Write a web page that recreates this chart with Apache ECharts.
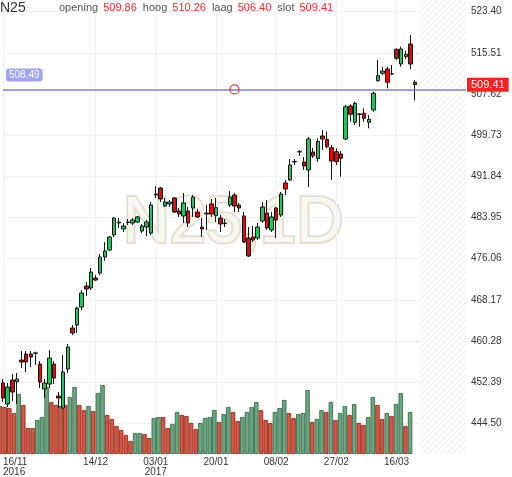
<!DOCTYPE html>
<html><head><meta charset="utf-8">
<script src="https://cdn.jsdelivr.net/npm/echarts@6/dist/echarts.min.js"></script>
<style>html,body{margin:0;padding:0;background:#fff}#c{width:512px;height:477px}</style>
</head><body><div id="c"></div>
<script>
const symbolName = 'N25';
const watermark = 'N25,1D';
const dates = [
'2016-11-16','2016-11-17','2016-11-18','2016-11-21','2016-11-22','2016-11-23','2016-11-24','2016-11-25','2016-11-28','2016-11-29','2016-11-30',
'2016-12-01','2016-12-02','2016-12-05','2016-12-06','2016-12-07','2016-12-08','2016-12-09','2016-12-12','2016-12-13','2016-12-14',
'2016-12-15','2016-12-16','2016-12-19','2016-12-20','2016-12-21','2016-12-22','2016-12-23','2016-12-27','2016-12-28','2016-12-29','2016-12-30',
'2017-01-02','2017-01-03','2017-01-04','2017-01-05','2017-01-06','2017-01-09','2017-01-10','2017-01-11','2017-01-12','2017-01-13',
'2017-01-16','2017-01-17','2017-01-18','2017-01-19','2017-01-20','2017-01-23','2017-01-24','2017-01-25','2017-01-26','2017-01-27','2017-01-30','2017-01-31',
'2017-02-01','2017-02-02','2017-02-03','2017-02-06','2017-02-07','2017-02-08','2017-02-09','2017-02-10','2017-02-13','2017-02-14','2017-02-15','2017-02-16','2017-02-17',
'2017-02-20','2017-02-21','2017-02-22','2017-02-23','2017-02-24','2017-02-27','2017-02-28',
'2017-03-01','2017-03-02','2017-03-03','2017-03-06','2017-03-07','2017-03-08','2017-03-09','2017-03-10','2017-03-13','2017-03-14','2017-03-15','2017-03-16','2017-03-17','2017-03-20','2017-03-21','2017-03-22',
'2017-03-23','2017-03-24','2017-03-27','2017-03-28','2017-03-29','2017-03-30','2017-03-31','2017-04-03','2017-04-04','2017-04-05','2017-04-06'
];
const openP = [
452.23,448.20,452.80,452.48,456.64,457.79,457.79,458.00,455.87,451.08,
452.03,455.87,449.73,447.43,454.91,462.77,463.34,466.79,470.82,470.44,
472.35,473.31,476.38,477.72,480.60,482.90,481.75,483.09,482.90,483.09,
481.36,482.13,480.98,488.45,489.60,486.15,486.54,487.69,485.20,484.24,
485.20,485.77,485.00,482.13,484.81,486.54,484.29,483.85,482.90,486.35,
488.26,486.35,484.24,480.02,480.21,480.02,483.28,484.81,481.55,485.77,
484.43,490.56,491.14,494.59,496.51,494.59,493.05,496.51,495.26,499.57,
498.94,497.33,496.56,496.12,499.00,505.32,502.20,503.79,503.92,502.20,
504.56,510.17,511.59,512.41,511.51,516.19,513.37,514.77,517.21,509.86];
const closeP = [
449.35,451.46,450.50,452.99,456.25,456.25,457.21,457.90,452.42,452.23,
457.02,453.18,449.35,454.34,459.13,461.81,466.60,469.48,470.24,473.50,
471.97,476.38,477.53,480.21,483.85,483.09,482.32,482.99,483.47,484.05,
482.32,483.09,486.35,488.26,487.50,486.92,486.92,485.00,484.62,486.73,
482.90,487.88,484.05,481.75,484.62,484.62,485.83,482.70,482.80,487.88,
486.15,485.77,479.25,476.57,479.64,482.13,485.96,481.94,484.05,483.47,
488.45,489.41,494.01,494.69,496.60,493.82,499.00,495.74,498.52,499.00,
497.52,494.78,494.65,495.30,505.19,503.73,505.84,503.70,502.96,502.77,
507.76,511.13,512.03,509.86,511.45,514.47,516.25,515.23,513.37,509.41];
const lowP = [
448.58,447.63,448.78,448.20,455.10,454.34,455.29,455.68,451.27,449.35,
451.27,452.03,447.43,447.30,454.14,461.43,461.81,466.22,468.90,470.05,
471.78,472.93,475.61,477.53,480.21,481.94,481.17,482.51,482.51,482.90,
480.98,480.40,480.60,487.69,486.92,485.96,485.96,484.81,484.05,482.90,
482.13,484.05,483.85,480.21,481.55,484.05,483.09,481.17,482.13,485.96,
485.00,485.00,479.06,476.38,479.25,479.64,482.90,481.55,481.17,480.02,
484.05,488.26,490.95,494.01,495.74,493.05,489.80,495.35,494.59,496.89,
497.21,491.14,494.01,491.77,498.80,502.31,501.68,501.35,502.31,501.05,
504.23,509.98,511.26,508.71,511.26,514.14,512.85,514.33,512.41,506.40];
const highP = [
452.99,452.23,453.95,454.14,458.36,458.36,458.36,458.23,456.44,452.99,
458.55,456.44,450.50,457.59,459.70,463.34,466.85,470.05,471.59,474.27,
472.93,476.95,479.25,480.40,484.05,483.85,482.90,483.66,483.85,484.24,
482.70,483.47,486.92,489.99,489.80,487.69,487.30,487.88,485.77,488.65,
485.96,488.26,485.58,483.85,486.35,487.50,487.69,484.43,483.66,489.03,
488.65,486.73,485.00,482.13,482.32,482.90,486.92,487.30,485.00,485.96,
488.84,491.14,495.16,495.16,496.89,495.55,499.38,497.27,499.13,500.72,
500.40,497.85,497.21,496.70,505.51,505.65,506.15,503.98,504.88,503.60,
508.06,514.14,512.85,512.85,513.18,516.38,516.69,515.86,518.93,510.26];
const volume = [
48,47,46,41,60,49,26,26,34,37,
67,52,49,48,49,57,67,49,44,48,
43,61,69,39,35,28,24,19,13,21,
21,20,16,36,37,37,26,30,42,39,
38,31,25,31,36,37,44,32,40,47,
42,33,37,42,47,52,44,34,31,42,
46,54,41,36,40,41,64,32,35,44,
42,52,34,41,48,39,50,31,29,37,
57,49,35,41,38,50,61,28,42];
const volumeUp = [
0,0,0,0,1,0,0,0,1,1,
1,0,0,0,0,1,1,0,0,1,
0,1,1,0,0,0,0,0,0,1,
1,0,0,1,1,0,0,1,1,0,
0,0,0,1,1,1,1,0,1,1,
0,0,1,1,1,1,0,0,0,1,
1,1,0,0,1,1,1,0,1,1,
0,1,0,1,1,0,1,0,0,1,
1,0,0,1,0,1,1,0,1];
const tickDates = ['2016-11-16','2016-12-14','2017-01-03','2017-01-20','2017-02-08','2017-02-27','2017-03-16'];
const tickLabels = ['16/11\n2016','14/12','03/01\n2017','20/01','08/02','27/02','16/03'];
const priceTicks = [444.50,452.39,460.28,468.17,476.06,483.95,491.84,499.73,507.62,515.51,523.40];
const refLine = 508.49;
const handleDate = '2017-01-26';
const futureStart = '2017-03-23';
const futureEnd = '2017-04-06';

const n = openP.length - 1;
const candles = openP.map((o, i) => [o, closeP[i], lowP[i], highP[i]]);

const pc = document.createElement('canvas');
pc.width = 6; pc.height = 6;
const g = pc.getContext('2d');
g.fillStyle = '#fdfdfd'; g.fillRect(0, 0, 6, 6);
g.strokeStyle = '#ebebeb'; g.lineWidth = 1;
g.beginPath(); g.moveTo(-1, 7); g.lineTo(7, -1); g.moveTo(-1, 1); g.lineTo(1, -1); g.moveTo(5, 7); g.lineTo(7, 5); g.stroke();

const FONT = '"Liberation Sans", Arial, sans-serif';
const showTick = (i, v) => tickDates.indexOf(v) >= 0;

const chart = echarts.init(document.getElementById('c'));
chart.setOption({
  animation: false,
  textStyle: { fontFamily: FONT },
  title: [
    { text: symbolName, left: 0, top: 1, padding: 0,
      textStyle: { fontSize: 14, fontWeight: 'normal', color: '#333', fontFamily: FONT } },
    { text: '{l|opening}{v|' + openP[n].toFixed(2) + '}{l|hoog}{v|' + highP[n].toFixed(2) + '}{l|laag}{v|' + lowP[n].toFixed(2) + '}{l|slot}{v|' + closeP[n].toFixed(2) + '}',
      left: 59, top: 2, padding: 0,
      textStyle: { fontSize: 11, fontWeight: 'normal', fontFamily: FONT,
        rich: { l: { color: '#555', fontSize: 11, padding: [0, 5, 0, 0] },
                v: { color: '#ff2a2a', fontSize: 11, padding: [0, 6, 0, 0] } } } }
  ],
  graphic: [{
    type: 'text', z: 0, silent: true,
    style: { text: watermark, x: 233, y: 224, align: 'center', verticalAlign: 'middle',
      font: '65px ' + FONT, fill: '#f9f7f1', stroke: '#e4dfd0', lineWidth: 4 }
  }],
  grid: [
    { left: 0, right: 46, top: 0, bottom: 23 },
    { left: 0, right: 46, bottom: 23, height: 100 }
  ],
  xAxis: [
    { type: 'category', data: dates, boundaryGap: false, gridIndex: 0,
      axisLine: { show: false }, axisTick: { show: false },
      axisLabel: { interval: showTick, formatter: v => tickLabels[tickDates.indexOf(v)],
        color: '#333', fontSize: 10, lineHeight: 10, margin: 3, alignMinLabel: 'left' },
      splitLine: { show: true, interval: showTick, lineStyle: { color: '#f0f0f0' } } },
    { type: 'category', data: dates, boundaryGap: false, gridIndex: 1,
      axisLine: { show: false }, axisTick: { show: false }, axisLabel: { show: false }, splitLine: { show: false } }
  ],
  yAxis: [
    { type: 'value', gridIndex: 0, position: 'right', min: 438.62, max: 525.64,
      axisLine: { show: false },
      axisTick: { show: false, customValues: priceTicks },
      axisLabel: { customValues: priceTicks, formatter: v => v.toFixed(2), color: '#333', fontSize: 10, margin: 5 },
      splitLine: { show: true, lineStyle: { color: '#f0f0f0' } } },
    { type: 'value', gridIndex: 1, min: 0, max: 100, show: false, splitLine: { show: false } }
  ],
  series: [
    { type: 'bar', xAxisIndex: 1, yAxisIndex: 1, barWidth: 4.4, z: 1,
      data: volume.map((v, i) => ({ value: v, itemStyle: {
        color: volumeUp[i] ? '#6aa882' : '#dc5540',
        borderColor: volumeUp[i] ? '#2d5f40' : '#7c2517', borderWidth: 0.8 } })) },
    { type: 'candlestick', xAxisIndex: 0, yAxisIndex: 0, barWidth: 4, z: 3,
      data: candles,
      itemStyle: { color: '#22c45e', color0: '#f20000', borderColor: '#151515', borderColor0: '#151515', borderWidth: 1 },
      markArea: { silent: true, itemStyle: { color: { image: pc, repeat: 'repeat' } },
        data: [[{ xAxis: futureStart }, { xAxis: futureEnd }]] },
      markLine: { silent: true, symbol: ['none', 'none'], animation: false,
        data: [
          { yAxis: refLine, lineStyle: { color: '#7f7fd6', width: 1.5, type: 'solid' },
            label: { show: true, position: 'insideStartTop', formatter: refLine.toFixed(2), color: '#fff',
              backgroundColor: '#a3a3f3', borderRadius: 3, padding: [2, 3, 1, 3], fontSize: 10, distance: [3, 8] } },
          { yAxis: closeP[n], lineStyle: { color: 'rgba(0,0,0,0)', width: 0 },
            label: { show: true, position: 'end', formatter: closeP[n].toFixed(2), color: '#fff',
              backgroundColor: '#ff1f1f', padding: [2, 4, 1, 4], fontSize: 11, distance: 1 } }
        ] },
      markPoint: { silent: true,
        data: [{ coord: [handleDate, refLine], symbol: 'circle', symbolSize: 9,
          itemStyle: { color: 'rgba(255,255,255,0)', borderColor: '#ee3333', borderWidth: 1.2 }, label: { show: false } }] }
    }
  ]
});
</script></body></html>
